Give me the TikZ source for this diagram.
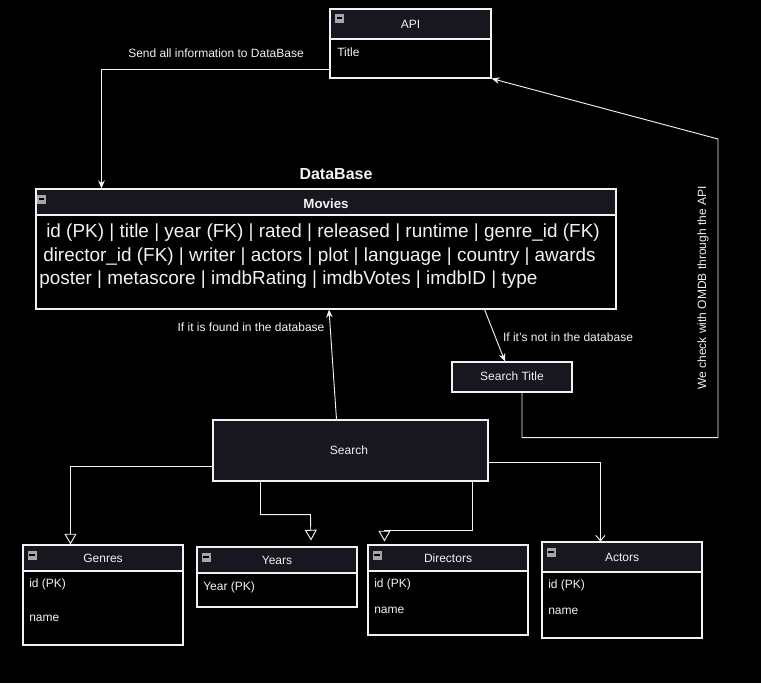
\documentclass[tikz,border=0pt]{standalone}
\usepackage{fontspec}
\setmainfont{Liberation Sans}
\usetikzlibrary{arrows.meta,fit,calc}

\definecolor{hdr}{HTML}{18161F}
\definecolor{ink}{HTML}{F2F2F2}

\tikzset{
  box/.style={draw=ink,line width=0.8pt,inner sep=0pt},
  head/.style={box,fill=hdr},
  lbl/.style={text=ink,font=\fontsize{9}{10}\selectfont,inner sep=0pt},
  big/.style={text=ink,font=\fontsize{14.2}{16}\selectfont,inner sep=0pt,anchor=west},
  flow/.style={draw=ink,line width=0.7pt,-{Stealth[length=6pt,width=5pt]}},
  inh/.style={draw=ink,line width=0.7pt,-{Triangle[open,length=8pt,width=9pt]}},
  barb/.style={draw=ink,line width=0.7pt,-{Straight Barb[length=4pt,width=7pt]}},
  minus/.pic={
    \fill[gray!70] (-4.5,-4.5) rectangle (4.5,4.5);
    \draw[black,line width=1.1pt] (-2.7,0) -- (2.7,0);
  },
}

\begin{document}
\begin{tikzpicture}[x=0.75pt,y=-0.75pt]
  \fill[black] (0,0) rectangle (761,683);
  \useasboundingbox (0,0) rectangle (761,683);

  % API
  \node[box,fit={(330,9) (491,78)}] (api) {};
  \node[head,fit={(330,9) (491,39)}] (api-h) {};
  \node[lbl] (api-t) at (api-h) {API};
  \node[lbl,anchor=west] (api-f) at (337,52) {Title};
  \pic at (339.5,18) {minus};

  % Movies
  \node[lbl,font=\fontsize{12}{14}\selectfont\bfseries] (dbase) at (336,174) {DataBase};
  \node[box,fit={(36,189) (616,309)}] (movies) {};
  \node[head,fit={(36,189) (616,215)}] (movies-h) {};
  \node[lbl,font=\fontsize{10}{12}\selectfont\bfseries] (movies-t) at (326,204) {Movies};
  \pic at (41.5,199) {minus};
  \node[big] (row1) at (46,233) {id (PK) | title | year (FK) | rated | released | runtime | genre\_id (FK)};
  \node[big] (row2) at (43,257) {director\_id (FK) | writer | actors | plot | language | country | awards};
  \node[big] (row3) at (39,280) {poster | metascore | imdbRating | imdbVotes | imdbID | type};

  % search boxes
  \node[head,fit={(213,420) (488,481)}] (search) {};
  \node[lbl] (search-t) at (349,450) {Search};
  \node[head,fit={(452,362) (572,392)}] (stitle) {};
  \node[lbl] (stitle-t) at (512,376) {Search Title};

  % small tables
  \foreach \nm/\lab/\x/\y/\h/\hh in {genres/Genres/23/545/100/26, years/Years/197/547/60/26,
      directors/Directors/368/545/90/26, actors/Actors/542/542/96/30} {
    \node[box,fit={(\x,\y) (\x+160,\y+\h)}] (\nm) {};
    \node[head,fit={(\x,\y) (\x+160,\y+\hh)}] (\nm-h) {};
    \node[lbl] (\nm-t) at (\nm-h) {\lab};
    \pic at (\x+9,\y+10) {minus};
  }
  \node[lbl,anchor=west] (genres-id) at (29,584) {id (PK)};
  \node[lbl,anchor=west] (genres-nm) at (29,618) {name};
  \node[lbl,anchor=west] (years-id) at (203,587) {Year (PK)};
  \node[lbl,anchor=west] (directors-id) at (374,584) {id (PK)};
  \node[lbl,anchor=west] (directors-nm) at (374,610) {name};
  \node[lbl,anchor=west] (actors-id) at (548,585) {id (PK)};
  \node[lbl,anchor=west] (actors-nm) at (548,611) {name};

  % connectors
  \draw[flow] ($(api.south west)+(0,-9)$) -| ($(movies.north west)+(66,0)$);
  \node[lbl] (send) at (216,53) {Send all information to DataBase};

  \draw[flow] ($(search.north)+(-14,0)$) -- ($(movies.south)+(3,0)$);
  \node[lbl] (found) at (251,327) {If it is found in the database};

  \draw[flow] ($(movies.south east)+(-132,0)$) -- ($(stitle.north)+(-7,0)$);
  \node[lbl] (notfound) at (568,337) {If it's not in the database};

  \coordinate (omdb) at (718,139);
  \draw[flow] ($(stitle.south)+(10,0)$) -- ++(0,45) -| (omdb) -- (api.south east);
  \node[lbl,rotate=90] (check) at (703,288) {We check with OMDB through the API};

  \draw[inh] ($(search.south west)+(0,-15)$) -| ($(genres.north west)+(48,0)$);
  \draw[inh] ($(search.south west)+(48,0)$) |- ++(50,33) -- ($(years.north)+(34,-6)$);
  \draw[inh] ($(search.south east)+(-16,0)$) |- ($(directors.north west)+(17,-14)$)
    -- ($(directors.north west)+(17,-3)$);
  \draw[barb] ($(search.north east)+(0,43)$) -| ($(actors.north west)+(59,0)$);
\end{tikzpicture}
\end{document}
